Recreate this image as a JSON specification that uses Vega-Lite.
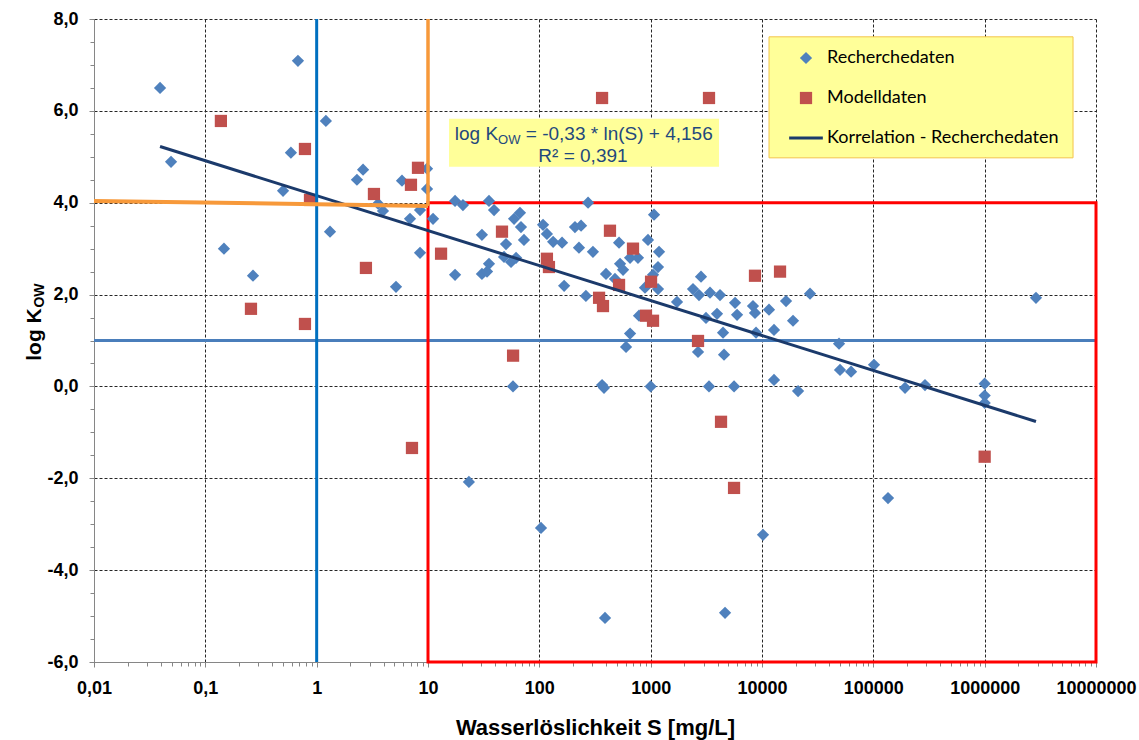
{
"$schema": "https://vega.github.io/schema/vega-lite/v6.json",
"width": 1002,
"height": 643,
"autosize": "none",
"padding": {"left": 94, "top": 19, "right": 43, "bottom": 78},
"background": "#ffffff",
"datasets": {
"pts": [
{"S":0.0392,"K":6.50,"Serie":"Recherchedaten"},
{"S":0.0492,"K":4.89,"Serie":"Recherchedaten"},
{"S":0.679,"K":7.09,"Serie":"Recherchedaten"},
{"S":1.21,"K":5.78,"Serie":"Recherchedaten"},
{"S":0.587,"K":5.09,"Serie":"Recherchedaten"},
{"S":0.499,"K":4.26,"Serie":"Recherchedaten"},
{"S":0.147,"K":3.00,"Serie":"Recherchedaten"},
{"S":0.268,"K":2.41,"Serie":"Recherchedaten"},
{"S":1.318,"K":3.37,"Serie":"Recherchedaten"},
{"S":2.30,"K":4.50,"Serie":"Recherchedaten"},
{"S":2.61,"K":4.72,"Serie":"Recherchedaten"},
{"S":3.56,"K":3.98,"Serie":"Recherchedaten"},
{"S":3.94,"K":3.82,"Serie":"Recherchedaten"},
{"S":5.84,"K":4.48,"Serie":"Recherchedaten"},
{"S":6.89,"K":3.65,"Serie":"Recherchedaten"},
{"S":8.48,"K":3.84,"Serie":"Recherchedaten"},
{"S":9.80,"K":4.74,"Serie":"Recherchedaten"},
{"S":9.80,"K":4.30,"Serie":"Recherchedaten"},
{"S":11.1,"K":3.65,"Serie":"Recherchedaten"},
{"S":8.48,"K":2.91,"Serie":"Recherchedaten"},
{"S":5.16,"K":2.17,"Serie":"Recherchedaten"},
{"S":17.5,"K":2.43,"Serie":"Recherchedaten"},
{"S":17.5,"K":4.04,"Serie":"Recherchedaten"},
{"S":20.6,"K":3.95,"Serie":"Recherchedaten"},
{"S":35.3,"K":4.04,"Serie":"Recherchedaten"},
{"S":39.2,"K":3.84,"Serie":"Recherchedaten"},
{"S":30.5,"K":3.30,"Serie":"Recherchedaten"},
{"S":50.2,"K":3.10,"Serie":"Recherchedaten"},
{"S":59.3,"K":3.65,"Serie":"Recherchedaten"},
{"S":67.0,"K":3.78,"Serie":"Recherchedaten"},
{"S":68.4,"K":3.47,"Serie":"Recherchedaten"},
{"S":72.8,"K":3.19,"Serie":"Recherchedaten"},
{"S":48.2,"K":2.82,"Serie":"Recherchedaten"},
{"S":61.8,"K":2.80,"Serie":"Recherchedaten"},
{"S":55.7,"K":2.71,"Serie":"Recherchedaten"},
{"S":35.3,"K":2.67,"Serie":"Recherchedaten"},
{"S":30.5,"K":2.45,"Serie":"Recherchedaten"},
{"S":33.9,"K":2.50,"Serie":"Recherchedaten"},
{"S":108,"K":3.52,"Serie":"Recherchedaten"},
{"S":117,"K":3.32,"Serie":"Recherchedaten"},
{"S":133,"K":3.15,"Serie":"Recherchedaten"},
{"S":160,"K":3.13,"Serie":"Recherchedaten"},
{"S":209,"K":3.47,"Serie":"Recherchedaten"},
{"S":237,"K":3.50,"Serie":"Recherchedaten"},
{"S":274,"K":4.00,"Serie":"Recherchedaten"},
{"S":227,"K":3.02,"Serie":"Recherchedaten"},
{"S":303,"K":2.93,"Serie":"Recherchedaten"},
{"S":167,"K":2.19,"Serie":"Recherchedaten"},
{"S":262,"K":1.97,"Serie":"Recherchedaten"},
{"S":397,"K":2.45,"Serie":"Recherchedaten"},
{"S":520,"K":3.13,"Serie":"Recherchedaten"},
{"S":531,"K":2.67,"Serie":"Recherchedaten"},
{"S":565,"K":2.54,"Serie":"Recherchedaten"},
{"S":478,"K":2.34,"Serie":"Recherchedaten"},
{"S":653,"K":2.80,"Serie":"Recherchedaten"},
{"S":769,"K":2.80,"Serie":"Recherchedaten"},
{"S":946,"K":3.19,"Serie":"Recherchedaten"},
{"S":1072,"K":3.74,"Serie":"Recherchedaten"},
{"S":1189,"K":2.93,"Serie":"Recherchedaten"},
{"S":1164,"K":2.60,"Serie":"Recherchedaten"},
{"S":1050,"K":2.43,"Serie":"Recherchedaten"},
{"S":889,"K":2.15,"Serie":"Recherchedaten"},
{"S":1164,"K":2.12,"Serie":"Recherchedaten"},
{"S":786,"K":1.54,"Serie":"Recherchedaten"},
{"S":653,"K":1.15,"Serie":"Recherchedaten"},
{"S":601,"K":0.86,"Serie":"Recherchedaten"},
{"S":1725,"K":1.84,"Serie":"Recherchedaten"},
{"S":2833,"K":2.39,"Serie":"Recherchedaten"},
{"S":2400,"K":2.12,"Serie":"Recherchedaten"},
{"S":2718,"K":1.99,"Serie":"Recherchedaten"},
{"S":3412,"K":2.04,"Serie":"Recherchedaten"},
{"S":4197,"K":1.99,"Serie":"Recherchedaten"},
{"S":5727,"K":1.82,"Serie":"Recherchedaten"},
{"S":5970,"K":1.56,"Serie":"Recherchedaten"},
{"S":8300,"K":1.75,"Serie":"Recherchedaten"},
{"S":8650,"K":1.60,"Serie":"Recherchedaten"},
{"S":11560,"K":1.67,"Serie":"Recherchedaten"},
{"S":16440,"K":1.86,"Serie":"Recherchedaten"},
{"S":27000,"K":2.02,"Serie":"Recherchedaten"},
{"S":19000,"K":1.43,"Serie":"Recherchedaten"},
{"S":12820,"K":1.23,"Serie":"Recherchedaten"},
{"S":8840,"K":1.17,"Serie":"Recherchedaten"},
{"S":3945,"K":1.58,"Serie":"Recherchedaten"},
{"S":3140,"K":1.49,"Serie":"Recherchedaten"},
{"S":4467,"K":1.17,"Serie":"Recherchedaten"},
{"S":2663,"K":0.75,"Serie":"Recherchedaten"},
{"S":4560,"K":0.69,"Serie":"Recherchedaten"},
{"S":49200,"K":0.93,"Serie":"Recherchedaten"},
{"S":12820,"K":0.14,"Serie":"Recherchedaten"},
{"S":21080,"K":-0.10,"Serie":"Recherchedaten"},
{"S":50200,"K":0.36,"Serie":"Recherchedaten"},
{"S":63100,"K":0.32,"Serie":"Recherchedaten"},
{"S":101400,"K":0.47,"Serie":"Recherchedaten"},
{"S":192700,"K":-0.03,"Serie":"Recherchedaten"},
{"S":291000,"K":0.03,"Serie":"Recherchedaten"},
{"S":1000000,"K":0.06,"Serie":"Recherchedaten"},
{"S":1000000,"K":-0.20,"Serie":"Recherchedaten"},
{"S":1000000,"K":-0.36,"Serie":"Recherchedaten"},
{"S":2890000,"K":1.93,"Serie":"Recherchedaten"},
{"S":58,"K":0.0,"Serie":"Recherchedaten"},
{"S":366,"K":0.03,"Serie":"Recherchedaten"},
{"S":381,"K":-0.03,"Serie":"Recherchedaten"},
{"S":1000,"K":0.0,"Serie":"Recherchedaten"},
{"S":3342,"K":0.0,"Serie":"Recherchedaten"},
{"S":5610,"K":0.0,"Serie":"Recherchedaten"},
{"S":23.3,"K":-2.08,"Serie":"Recherchedaten"},
{"S":103.5,"K":-3.08,"Serie":"Recherchedaten"},
{"S":389,"K":-5.04,"Serie":"Recherchedaten"},
{"S":4656,"K":-4.93,"Serie":"Recherchedaten"},
{"S":10210,"K":-3.23,"Serie":"Recherchedaten"},
{"S":135500,"K":-2.43,"Serie":"Recherchedaten"},
{"S":0.138,"K":5.78,"Serie":"Modelldaten"},
{"S":0.785,"K":5.17,"Serie":"Modelldaten"},
{"S":0.871,"K":4.06,"Serie":"Modelldaten"},
{"S":3.27,"K":4.19,"Serie":"Modelldaten"},
{"S":7.03,"K":4.39,"Serie":"Modelldaten"},
{"S":8.13,"K":4.76,"Serie":"Modelldaten"},
{"S":13.1,"K":2.89,"Serie":"Modelldaten"},
{"S":2.77,"K":2.58,"Serie":"Modelldaten"},
{"S":0.257,"K":1.69,"Serie":"Modelldaten"},
{"S":0.785,"K":1.36,"Serie":"Modelldaten"},
{"S":7.18,"K":-1.34,"Serie":"Modelldaten"},
{"S":46.2,"K":3.37,"Serie":"Modelldaten"},
{"S":58.1,"K":0.67,"Serie":"Modelldaten"},
{"S":117,"K":2.78,"Serie":"Modelldaten"},
{"S":122,"K":2.60,"Serie":"Modelldaten"},
{"S":366,"K":6.28,"Serie":"Modelldaten"},
{"S":3342,"K":6.28,"Serie":"Modelldaten"},
{"S":431,"K":3.39,"Serie":"Modelldaten"},
{"S":694,"K":3.00,"Serie":"Modelldaten"},
{"S":520,"K":2.21,"Serie":"Modelldaten"},
{"S":1008,"K":2.28,"Serie":"Modelldaten"},
{"S":344,"K":1.93,"Serie":"Modelldaten"},
{"S":373,"K":1.75,"Serie":"Modelldaten"},
{"S":908,"K":1.54,"Serie":"Modelldaten"},
{"S":1050,"K":1.43,"Serie":"Modelldaten"},
{"S":2663,"K":0.99,"Serie":"Modelldaten"},
{"S":4285,"K":-0.77,"Serie":"Modelldaten"},
{"S":5610,"K":-2.21,"Serie":"Modelldaten"},
{"S":8650,"K":2.41,"Serie":"Modelldaten"},
{"S":14520,"K":2.50,"Serie":"Modelldaten"},
{"S":1000000,"K":-1.53,"Serie":"Modelldaten"}
],
"trend": [
{"S":0.0392,"K":5.225,"Serie":"Korrelation - Recherchedaten"},
{"S":2890000,"K":-0.764,"Serie":"Korrelation - Recherchedaten"}
]
},
"layer": [
{
"data": {"values": [{}]},
"mark": {"type": "rule", "color": "#4A7EBB", "strokeWidth": 3},
"encoding": {
"y": {"datum": 1, "type": "quantitative",
"scale": {"domain": [-6, 8], "nice": false, "zero": false},
"axis": {"orient": "left", "values": [-5.5,-5,-4.5,-3.5,-3,-2.5,-1.5,-1,-0.5,0.5,1,1.5,2.5,3,3.5,4.5,5,5.5,6.5,7,7.5],
"labels": false, "domain": false, "grid": false, "ticks": true, "tickSize": 4, "tickColor": "#868686",
"title": "OW", "titleFont": "Liberation Sans", "titleFontWeight": "bold", "titleFontSize": 14, "titleColor": "#000000",
"titleX": -48, "titleY": 276, "titleAngle": -90, "titleAlign": "center", "titleBaseline": "bottom"}}
}
},
{
"data": {"values": [{}]},
"mark": {"type": "rect", "filled": false, "color": "#FF0000", "strokeWidth": 3},
"encoding": {
"x": {"datum": 10, "type": "quantitative", "axis": null},
"x2": {"datum": 10000000},
"y": {"datum": 4, "type": "quantitative", "axis": null},
"y2": {"datum": -6}
}
},
{
"data": {"values": [{}]},
"mark": {"type": "rect", "fill": "#FFFF99", "strokeWidth": 0},
"encoding": {
"x": {"datum": 15.45, "type": "quantitative", "axis": null},
"x2": {"datum": 4111},
"y": {"datum": 5.826, "type": "quantitative", "axis": null},
"y2": {"datum": 4.781}
}
},
{
"data": {"values": [{}]},
"mark": {"type": "rect", "fill": "#FFFF99", "stroke": "#F3C44B", "strokeWidth": 1},
"encoding": {
"x": {"datum": 11560, "type": "quantitative", "axis": null},
"x2": {"datum": 6220000},
"y": {"datum": 7.612, "type": "quantitative", "axis": null},
"y2": {"datum": 4.977}
}
},
{
"data": {"name": "pts"},
"mark": {"type": "point", "filled": true, "size": 150, "opacity": 1, "strokeWidth": 0},
"encoding": {
"x": {"field": "S", "type": "quantitative",
"scale": {"type": "log", "domain": [0.01, 10000000], "nice": false},
"axis": {"orient": "bottom", "values": [0.01,0.1,1,10,100,1000,10000,100000,1000000,10000000],
"labelExpr": "replace(format(datum.value, ''), '.', ',')",
"grid": true, "gridColor": "#262626", "gridDash": [3,2], "gridWidth": 1,
"domain": true, "domainColor": "#868686", "domainWidth": 1,
"ticks": true, "tickSize": 5, "tickColor": "#868686",
"labelFont": "Liberation Sans", "labelFontWeight": "bold", "labelFontSize": 18, "labelColor": "#000000",
"labelPadding": 12, "labelFlush": false, "labelOverlap": false,
"title": "Wasserlöslichkeit S [mg/L]", "titleFont": "Liberation Sans", "titleFontWeight": "bold", "titleFontSize": 22,
"titleColor": "#000000", "titleY": 72, "titleBaseline": "alphabetic", "titleAlign": "center"}},
"y": {"field": "K", "type": "quantitative",
"scale": {"domain": [-6, 8], "nice": false, "zero": false},
"axis": {"orient": "left", "values": [-6,-4,-2,0,2,4,6,8],
"labelExpr": "replace(replace(format(datum.value, '.1f'), '.', ','), '\u2212', '-')",
"grid": true, "gridColor": "#262626", "gridDash": [3,2], "gridWidth": 1,
"domain": true, "domainColor": "#868686", "domainWidth": 1,
"ticks": true, "tickSize": 5, "tickColor": "#868686",
"labelFont": "Liberation Sans", "labelFontWeight": "bold", "labelFontSize": 18, "labelColor": "#000000",
"labelPadding": 11, "labelOverlap": false,
"title": "log K", "titleFont": "Liberation Sans", "titleFontWeight": "bold", "titleFontSize": 21, "titleColor": "#000000",
"titleX": -50, "titleY": 315, "titleAngle": -90, "titleAlign": "center", "titleBaseline": "bottom"}},
"color": {"field": "Serie", "type": "nominal",
"scale": {"domain": ["Recherchedaten", "Modelldaten", "Korrelation - Recherchedaten"], "range": ["#4F81BD", "#C0504D", "#1B3A6B"]},
"legend": {"orient": "none", "legendX": 703, "legendY": 30, "title": null, "padding": 0, "rowPadding": 22,
"labelFont": "Lato", "labelFontSize": 18, "labelColor": "#000000", "labelOffset": 12, "labelLimit": 400,
"symbolSize": 150, "symbolStrokeWidth": 0}},
"shape": {"field": "Serie", "type": "nominal",
"scale": {"domain": ["Recherchedaten", "Modelldaten", "Korrelation - Recherchedaten"], "range": ["diamond", "square", "M-2.75,-0.25H2.75V0.25H-2.75Z"]}}
}
},
{
"data": {"name": "trend"},
"mark": {"type": "line", "strokeWidth": 3},
"encoding": {
"x": {"field": "S", "type": "quantitative", "axis": null},
"y": {"field": "K", "type": "quantitative", "axis": null},
"color": {"field": "Serie", "type": "nominal"}
}
},
{
"data": {"values": [{}]},
"mark": {"type": "rule", "color": "#0070C0", "strokeWidth": 3},
"encoding": {
"x": {"datum": 1, "type": "quantitative",
"axis": {"orient": "bottom", "values": [0.02,0.03,0.04,0.05,0.06,0.07,0.08,0.09,0.2,0.3,0.4,0.5,0.6,0.7,0.8,0.9,2,3,4,5,6,7,8,9,20,30,40,50,60,70,80,90,200,300,400,500,600,700,800,900,2000,3000,4000,5000,6000,7000,8000,9000,20000,30000,40000,50000,60000,70000,80000,90000,200000,300000,400000,500000,600000,700000,800000,900000,2000000,3000000,4000000,5000000,6000000,7000000,8000000,9000000],
"labels": false, "domain": false, "grid": false, "ticks": true, "tickSize": 4, "tickColor": "#868686", "title": null}}
}
},
{
"data": {"values": [{}]},
"mark": {"type": "rule", "color": "#F7993A", "strokeWidth": 4},
"encoding": {
"x": {"datum": 0.01, "type": "quantitative", "axis": null},
"x2": {"datum": 10},
"y": {"datum": 4.04, "type": "quantitative", "axis": null},
"y2": {"datum": 3.93}
}
},
{
"data": {"values": [{}]},
"mark": {"type": "rule", "color": "#F7993A", "strokeWidth": 3.5},
"encoding": {
"x": {"datum": 10, "type": "quantitative", "axis": null},
"y": {"datum": 3.93, "type": "quantitative", "axis": null},
"y2": {"datum": 8}
}
},
{
"data": {"values": [{}]},
"mark": {"type": "text", "text": "log K", "align": "right", "baseline": "alphabetic", "font": "Liberation Sans", "fontSize": 19, "color": "#1F497D"},
"encoding": {
"x": {"datum": 42.6, "type": "quantitative", "axis": null},
"y": {"datum": 5.37, "type": "quantitative", "axis": null}
}
},
{
"data": {"values": [{}]},
"mark": {"type": "text", "text": "OW", "align": "left", "baseline": "alphabetic", "dy": 4, "font": "Liberation Sans", "fontSize": 13, "color": "#1F497D"},
"encoding": {
"x": {"datum": 42.6, "type": "quantitative", "axis": null},
"y": {"datum": 5.37, "type": "quantitative", "axis": null}
}
},
{
"data": {"values": [{}]},
"mark": {"type": "text", "text": "= -0,33 * ln(S) + 4,156", "align": "left", "baseline": "alphabetic", "dx": 27.7, "font": "Liberation Sans", "fontSize": 19, "color": "#1F497D"},
"encoding": {
"x": {"datum": 42.6, "type": "quantitative", "axis": null},
"y": {"datum": 5.37, "type": "quantitative", "axis": null}
}
},
{
"data": {"values": [{}]},
"mark": {"type": "text", "text": "R² = 0,391", "align": "center", "baseline": "alphabetic", "font": "Liberation Sans", "fontSize": 19, "color": "#1F497D"},
"encoding": {
"x": {"datum": 246.6, "type": "quantitative", "axis": null},
"y": {"datum": 4.89, "type": "quantitative", "axis": null}
}
}
],
"resolve": {"axis": {"x": "independent", "y": "independent"}},
"config": {
"view": {"stroke": null},
"axis": {"labelFont": "Liberation Sans", "titleFont": "Liberation Sans"}
}
}
